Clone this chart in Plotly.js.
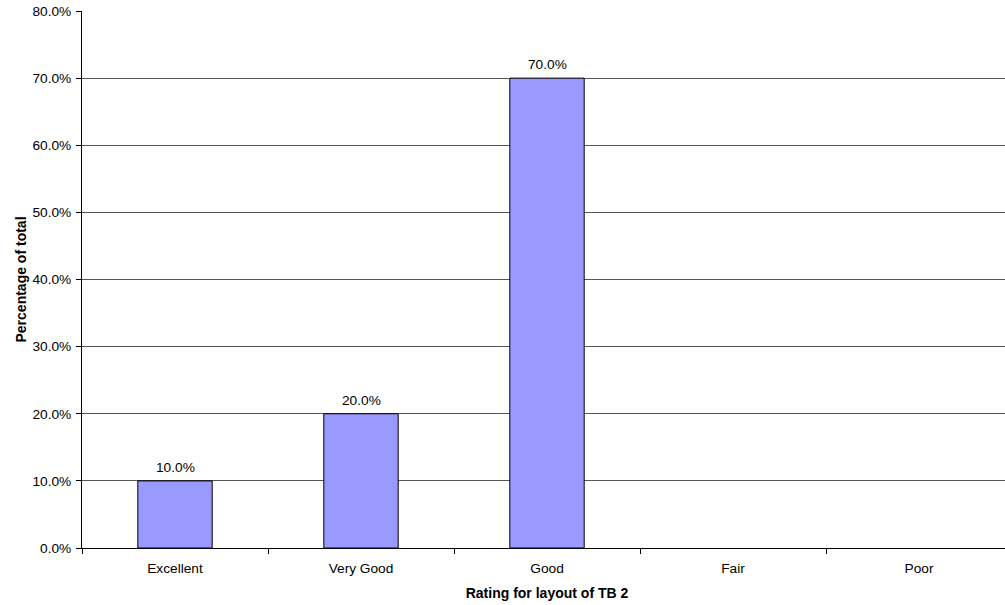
<!DOCTYPE html>
<html>
<head>
<meta charset="utf-8">
<script src="https://cdn.plot.ly/plotly-3.0.1.min.js"></script>
<style>
  html, body { margin: 0; padding: 0; overflow: hidden; background: #fff; }
  #chart { width: 1012px; height: 605px; }
</style>
</head>
<body>
<div id="chart"></div>
<script>
// Rating categories and share of responses (percent)
const categories = ['Excellent', 'Very Good', 'Good', 'Fair', 'Poor'];
const percentages = [10.0, 20.0, 70.0, 0.0, 0.0];
const yTickValues = [0, 10, 20, 30, 40, 50, 60, 70, 80];

const family = 'Liberation Sans, Arial, sans-serif';
const font = { family: family, size: 13.7, color: '#000' };
const titleFont = { family: family, size: 14, color: '#000' };

const trace = {
  type: 'bar',
  x: categories,
  y: percentages,
  marker: {
    color: '#9999FF',
    // empty bars get no outline
    line: { color: '#000', width: percentages.map(v => (v > 0 ? 1 : 0)) }
  },
  hoverinfo: 'x+y'
};

// Value labels above non-empty bars
const valueLabels = categories
  .map((c, i) => ({ c: c, v: percentages[i] }))
  .filter(d => d.v > 0)
  .map(d => ({
    x: d.c,
    y: d.v,
    text: d.v.toFixed(1) + '%',
    showarrow: false,
    xanchor: 'center',
    yanchor: 'bottom',
    yshift: 4,
    font: font
  }));

const layout = {
  width: 1012,
  height: 605,
  margin: { l: 82, r: 0, t: 11, b: 57 },
  paper_bgcolor: '#fff',
  plot_bgcolor: '#fff',
  font: font,
  showlegend: false,
  bargap: 0.6,
  annotations: valueLabels,
  xaxis: {
    type: 'category',
    range: [-0.5, 4.5],
    tickson: 'boundaries',
    ticks: 'outside',
    ticklen: 5,
    tickcolor: '#000',
    ticklabelstandoff: 8,
    showline: true,
    linecolor: '#000',
    linewidth: 1,
    showgrid: false,
    zeroline: false,
    tickfont: font,
    title: {
      text: '<b>Rating for layout of TB 2</b>',
      font: titleFont,
      standoff: 12
    }
  },
  yaxis: {
    range: [0, 80],
    tickvals: yTickValues,
    ticktext: yTickValues.map(v => v.toFixed(1) + '%'),
    ticks: 'outside',
    ticklen: 5,
    tickcolor: '#000',
    ticklabelstandoff: 2,
    showline: true,
    linecolor: '#000',
    linewidth: 1,
    showgrid: true,
    gridcolor: '#555',
    gridwidth: 1,
    zeroline: false,
    tickfont: font,
    title: {
      text: '<b>Percentage of total</b>',
      font: titleFont,
      standoff: 2
    }
  }
};

Plotly.newPlot('chart', [trace], layout, { displayModeBar: false, staticPlot: true });
</script>
</body>
</html>
